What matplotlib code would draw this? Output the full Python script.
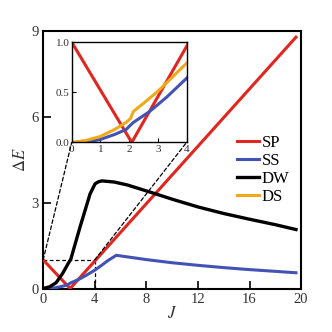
import numpy as np
import matplotlib
matplotlib.use("Agg")
import matplotlib.pyplot as plt
from matplotlib.patches import ConnectionPatch

plt.rcParams['font.family'] = ['Liberation Serif', 'DejaVu Serif']
plt.rcParams['mathtext.fontset'] = 'stix'

# values
sp_J = [0, 2.09, 19.6]
sp_E = [1.0, 0.0, 8.78]

ss_J = [0, 0.5, 1.0, 1.5, 1.9, 2.0, 2.15, 2.72, 3.3, 4.0, 4.5, 5.0, 5.67,
        8, 10, 12, 14, 16, 18, 19.6]
ss_E = [0, 0.0, 0.03, 0.08, 0.13, 0.16, 0.2, 0.31, 0.45, 0.64, 0.8, 0.97, 1.16,
        1.01, 0.9, 0.81, 0.73, 0.66, 0.6, 0.55]

dw_J = [0, 0.5, 1.0, 1.5, 2.0, 2.14, 2.86, 3.64, 4.03, 4.3, 4.55, 5.5, 6.5,
        7.5, 8.7, 10, 12, 14, 16, 18, 19.6]
dw_E = [0, 0.06, 0.2, 0.52, 0.92, 1.02, 2.15, 3.31, 3.66, 3.73, 3.76, 3.72,
        3.62, 3.48, 3.31, 3.12, 2.85, 2.62, 2.42, 2.23, 2.06]

ds_J = [0, 0.5, 1.0, 1.5, 1.9, 2.05, 2.15, 2.5, 3.0, 3.5, 4.0]
ds_E = [0, 0.02, 0.06, 0.13, 0.2, 0.24, 0.31, 0.39, 0.51, 0.65, 0.79]

red = '#e1261f'
blue = '#4352b5'
yellow = '#f0a91a'
tcol = '#333333'

fig = plt.figure(figsize=(3.32, 3.32), dpi=100)
ax = fig.add_axes([0.13, 0.131, 0.777, 0.776])

ax.plot(sp_J, sp_E, color=red, lw=2.2, label='SP', zorder=3)
ax.plot(ss_J, ss_E, color=blue, lw=2.2, label='SS', zorder=3)
ax.plot(dw_J, dw_E, color='black', lw=2.4, label='DW', zorder=3)
ax.plot([], [], color=yellow, lw=2.2, label='DS')

# zoom box
ax.plot([0, 4], [1, 1], color='black', ls=(0, (3, 2)), lw=0.9, zorder=2)
ax.plot([4, 4], [0, 1], color='black', ls=(0, (3, 2)), lw=0.9, zorder=2)

ax.set_xlim(0, 20)
ax.set_ylim(0, 9)
ax.set_xticks([0, 4, 8, 12, 16, 20])
ax.set_yticks([0, 3, 6, 9])
ax.tick_params(direction='in', length=6, width=1.2, labelsize=10.5,
               colors='black', labelcolor=tcol, pad=3)
for s in ax.spines.values():
    s.set_linewidth(1.5)
ax.set_xlabel(r'$J$', fontsize=12, color=tcol, labelpad=0)
ax.set_ylabel(r'$\Delta E$', fontsize=12, color=tcol, labelpad=2)

ax.legend(loc='upper left', bbox_to_anchor=(0.72, 0.63), frameon=False,
          fontsize=12, handlelength=1.3, handletextpad=0.15,
          labelspacing=0.12, borderpad=0)

# inset
axi = fig.add_axes([0.216, 0.571, 0.346, 0.302])
axi.plot(sp_J, sp_E, color=red, lw=2.2)
axi.plot(ss_J, ss_E, color=blue, lw=2.2)
axi.plot(ds_J, ds_E, color=yellow, lw=2.2)
axi.set_xlim(0, 4)
axi.set_ylim(0, 1)
axi.set_xticks([0, 1, 2, 3, 4])
axi.set_yticks([0, 0.5, 1.0])
axi.set_yticklabels(['0.0', '0.5', '1.0'])
axi.tick_params(direction='in', length=3, width=0.8, labelsize=8,
                labelcolor=tcol, pad=1.5)
for s in axi.spines.values():
    s.set_linewidth(1.0)

for xa, xb in [((0, 1), (0, 0)), ((4, 1), (1, 0))]:
    con = ConnectionPatch(xyA=xa, coordsA=ax.transData, xyB=xb,
                          coordsB=axi.transAxes, color='black',
                          ls=(0, (3, 2)), lw=0.9, zorder=1)
    fig.add_artist(con)

fig.savefig('out.png', dpi=100)
